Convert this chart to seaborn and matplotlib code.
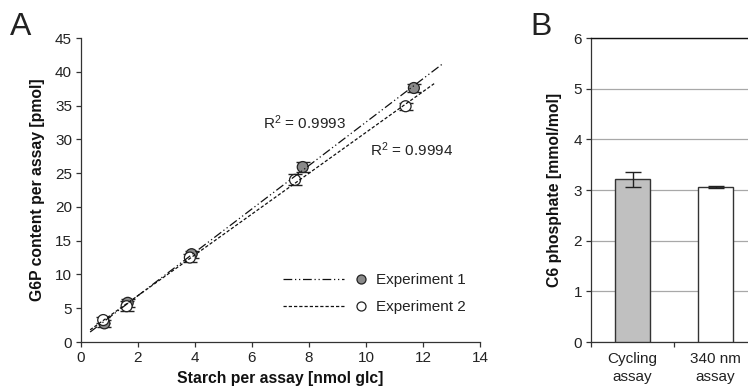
import numpy as np
import pandas as pd
import matplotlib
matplotlib.use("Agg")
import matplotlib.pyplot as plt
from matplotlib.lines import Line2D
from matplotlib.legend_handler import HandlerBase
import seaborn as sns

# ---- Panel A: G6P content vs. starch per assay ----
exp1_starch = [0.82, 1.64, 3.88, 7.78, 11.68]
exp1_g6p = [2.76, 5.8, 13.0, 25.9, 37.6]
exp1_err = [0.5, 0.6, 0.5, 0.7, 0.6]

exp2_starch = [0.78, 1.60, 3.82, 7.51, 11.39]
exp2_g6p = [3.25, 5.3, 12.5, 24.0, 34.9]
exp2_err = [0.5, 0.7, 0.6, 0.8, 0.5]

r2_labels = ["R$^2$ = 0.9993", "R$^2$ = 0.9994"]
series_names = ["Experiment 1", "Experiment 2"]

# ---- Panel B: C6 phosphate by assay ----
assays = ["Cycling\nassay", "340 nm\nassay"]
c6_values = [3.21, 3.06]
c6_err = [0.155, 0.02]

sns.set_theme(style="ticks")
plt.rcParams["font.family"] = ["Liberation Sans", "DejaVu Sans"]
plt.rcParams["mathtext.fontset"] = "custom"
plt.rcParams["mathtext.rm"] = "Liberation Sans"
plt.rcParams["mathtext.default"] = "rm"
plt.rcParams["text.color"] = "#222222"
plt.rcParams["axes.labelcolor"] = "#111111"
plt.rcParams["xtick.color"] = "#333333"
plt.rcParams["ytick.color"] = "#333333"
plt.rcParams["xtick.labelcolor"] = "#222222"
plt.rcParams["ytick.labelcolor"] = "#222222"

TICK_FS = 11
LABEL_FS = 11.3

fig = plt.figure(figsize=(7.48, 3.89), dpi=100)
W, H = 748, 389

def px_axes(left, top, right, bottom):
    return fig.add_axes([left / W, 1 - bottom / H, (right - left) / W, (bottom - top) / H])

axA = px_axes(81, 38, 480, 342)
axB = px_axes(591, 38, 757, 342)

spine_col = "#333333"

# Scatter data as a long table
dfA = pd.DataFrame({
    "starch": exp1_starch + exp2_starch,
    "g6p": exp1_g6p + exp2_g6p,
    "err": exp1_err + exp2_err,
    "exp": [series_names[0]] * 5 + [series_names[1]] * 5,
})

fills = {series_names[0]: "#8a8a8a", series_names[1]: "#ffffff"}
styles = {series_names[0]: (0, (7, 2.2, 1, 2.2, 1, 2.2)), series_names[1]: (0, (2.6, 1.6))}
line_ranges = {series_names[0]: (0.32, 12.69), series_names[1]: (0.32, 12.39)}

for name in series_names:
    sub = dfA[dfA["exp"] == name]
    axA.errorbar(sub["starch"], sub["g6p"], yerr=sub["err"], fmt="none",
                 ecolor="#222222", elinewidth=1.0, capsize=5, capthick=1.0, zorder=2)

sns.scatterplot(data=dfA, x="starch", y="g6p", hue="exp", palette=fills,
                edgecolor="#222222", linewidth=0.9, s=62, legend=False,
                ax=axA, zorder=3)

# Linear fits drawn across the data span
for name in series_names:
    sub = dfA[dfA["exp"] == name]
    slope, intercept = np.polyfit(sub["starch"], sub["g6p"], 1)
    xs = np.array(line_ranges[name])
    axA.plot(xs, slope * xs + intercept, color="#111111", lw=0.9,
             linestyle=styles[name], zorder=4)

axA.text(6.39, 32.4, r2_labels[0], fontsize=TICK_FS, va="center", ha="left")
axA.text(10.14, 28.4, r2_labels[1], fontsize=TICK_FS, va="center", ha="left")

axA.set_xlim(0, 14)
axA.set_ylim(0, 45)
axA.set_xticks(np.arange(0, 15, 2))
axA.set_yticks(np.arange(0, 46, 5))
axA.tick_params(labelsize=TICK_FS, length=3.5, width=0.9, pad=3)
for side in ["top", "right"]:
    axA.spines[side].set_visible(False)
for side in ["left", "bottom"]:
    axA.spines[side].set_color(spine_col)
    axA.spines[side].set_linewidth(0.9)
axA.set_xlabel("Starch per assay [nmol glc]", fontsize=LABEL_FS, fontweight="bold", labelpad=4)
axA.set_ylabel("G6P content per assay [pmol]", fontsize=LABEL_FS, fontweight="bold", labelpad=7)


class LineThenDot(HandlerBase):
    """Legend entry: line segment on the left, marker at the right end."""
    def create_artists(self, legend, orig_handle, xdescent, ydescent,
                       width, height, fontsize, trans):
        y = (height - ydescent) / 2
        x0 = -xdescent
        ln = Line2D([x0, x0 + width * 0.745], [y, y])
        ln.update_from(orig_handle)
        ln.set_marker("None")
        dot = Line2D([x0 + width * 0.95], [y])
        dot.update_from(orig_handle)
        dot.set_linestyle("None")
        ln.set_transform(trans)
        dot.set_transform(trans)
        return [ln, dot]


handles = [
    Line2D([], [], color="#111111", lw=0.9, linestyle=styles[n], marker="o",
           markersize=6.5, markerfacecolor=fills[n], markeredgecolor="#222222",
           markeredgewidth=0.9)
    for n in series_names
]
axA.legend(handles, series_names, handler_map={Line2D: LineThenDot()},
           loc="upper left", bbox_to_anchor=(0.506, 0.226), frameon=False,
           fontsize=TICK_FS, handlelength=5.36, handletextpad=0.75, labelspacing=0.85,
           borderpad=0, borderaxespad=0)

# ---- Panel B ----
dfB = pd.DataFrame({"assay": assays, "value": c6_values, "err": c6_err})
sns.barplot(data=dfB, x="assay", y="value", hue="assay",
            palette=["#c0c0c0", "#ffffff"], edgecolor="#333333", linewidth=1.0,
            width=0.42, legend=False, errorbar=None, ax=axB, zorder=3)
axB.errorbar(np.arange(len(assays)), dfB["value"], yerr=dfB["err"], fmt="none",
             ecolor="#222222", elinewidth=1.0, capsize=5.5, capthick=1.0, zorder=4)

axB.set_xlim(-0.5, 1.5)
axB.set_ylim(0, 6)
axB.set_yticks(np.arange(0, 7, 1))
axB.yaxis.grid(True, color="#a8a8a8", lw=0.9, zorder=0)
axB.set_axisbelow(True)
axB.set_xticks([0, 1])
axB.set_xticklabels(assays, fontsize=TICK_FS, linespacing=1.3)
axB.set_xticks([-0.5, 0.5, 1.5], minor=True)
axB.tick_params(axis="x", which="major", length=0, pad=7.5)
axB.tick_params(axis="x", which="minor", length=3.5, width=0.9, color=spine_col)
axB.tick_params(axis="y", labelsize=TICK_FS, length=3.5, width=0.9, pad=3)
axB.spines["right"].set_visible(False)
axB.spines["top"].set_color("#111111")
axB.spines["top"].set_linewidth(1.0)
for side in ["left", "bottom"]:
    axB.spines[side].set_color(spine_col)
    axB.spines[side].set_linewidth(0.9)
axB.set_xlabel("")
axB.set_ylabel("C6 phosphate [mmol/mol]", fontsize=LABEL_FS, fontweight="bold", labelpad=8)

fig.text(10 / W, 1 - 27 / H, "A", fontsize=23, va="center", ha="left")
fig.text(530 / W, 1 - 27 / H, "B", fontsize=23, va="center", ha="left")

fig.savefig("out.png", dpi=100)
